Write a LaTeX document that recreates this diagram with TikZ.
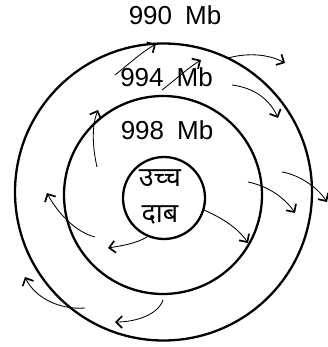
\documentclass[tikz,border=0pt]{standalone}
\usepackage{fontspec}
\setmainfont{Liberation Sans}
\newfontfamily\devfont[Script=Devanagari]{Noto Sans}
\usetikzlibrary{arrows.meta}
\newcommand{\wsp}{\hspace{0.5em}}
\begin{document}
\begin{tikzpicture}[x=1pt,y=-1pt,
  ring/.style={draw=black,line width=2.3pt,circle,inner sep=0pt},
  lbl/.style={font=\fontsize{26}{30}\selectfont,inner sep=0pt,anchor=base},
  hin/.style={font=\devfont\fontsize{27}{30}\selectfont,inner sep=0pt},
  flow/.style={draw=black,line width=0.85pt,-{Straight Barb[length=6pt,width=12pt,line width=1.7pt]}}]
\useasboundingbox (0,0) rectangle (328,347);
% circles
\node[ring,minimum size=297pt] (outer) at (163.5,192) {};
\node[ring,minimum size=198pt] (middle) at (163,195) {};
\node[ring,minimum size=82pt] (inner) at (164,198) {};
% labels
\node[lbl] (l990) at (175,25) {990\wsp Mb};
\node[lbl] (l994) at (166.5,87) {994\wsp Mb};
\node[lbl] (l998) at (167,140) {998\wsp Mb};
\node[hin] (t1) at (160,178) {उच्च};
\node[hin] (t2) at (160,215) {दाब};
% arrow end points
\coordinate (a1) at (115,75);  \coordinate (a2) at (156,44);
\coordinate (b1) at (162,90);  \coordinate (b2) at (201,60);
\coordinate (c1) at (228,58);  \coordinate (c2) at (285,63);
\coordinate (d1) at (232,85);  \coordinate (d2) at (278,118);
\coordinate (e1) at (282,172); \coordinate (e2) at (327,202);
\coordinate (f1) at (248,182); \coordinate (f2) at (295,213);
\coordinate (g1) at (204,210); \coordinate (g2) at (248,243);
\coordinate (h1) at (147,237); \coordinate (h2) at (108,248);
\coordinate (i1) at (95,237);  \coordinate (i2) at (47,193);
\coordinate (j1) at (97,167);  \coordinate (j2) at (98,110);
\coordinate (k1) at (85,308);  \coordinate (k2) at (25,277);
\coordinate (m1) at (163,300); \coordinate (m2) at (115,322);
% arrows
\draw[flow] (a1) .. controls (130,63) and (142,52) .. (a2);
\draw[flow] (b1) .. controls (175,80) and (188,68) .. (b2);
\draw[flow] (c1) .. controls (250,52) and (270,55) .. (c2);
\draw[flow] (d1) .. controls (255,88) and (270,100) .. (d2);
\draw[flow] (e1) .. controls (300,175) and (318,188) .. (e2);
\draw[flow] (f1) .. controls (268,186) and (285,198) .. (f2);
\draw[flow] (g1) .. controls (222,218) and (238,228) .. (g2);
\draw[flow] (h1) .. controls (135,244) and (120,246) .. (h2);
\draw[flow] (i1) .. controls (75,232) and (57,212) .. (i2);
\draw[flow] (j1) .. controls (92,145) and (92,125) .. (j2);
\draw[flow] (k1) .. controls (60,310) and (35,298) .. (k2);
\draw[flow] (m1) .. controls (158,315) and (135,322) .. (m2);
\end{tikzpicture}
\end{document}
